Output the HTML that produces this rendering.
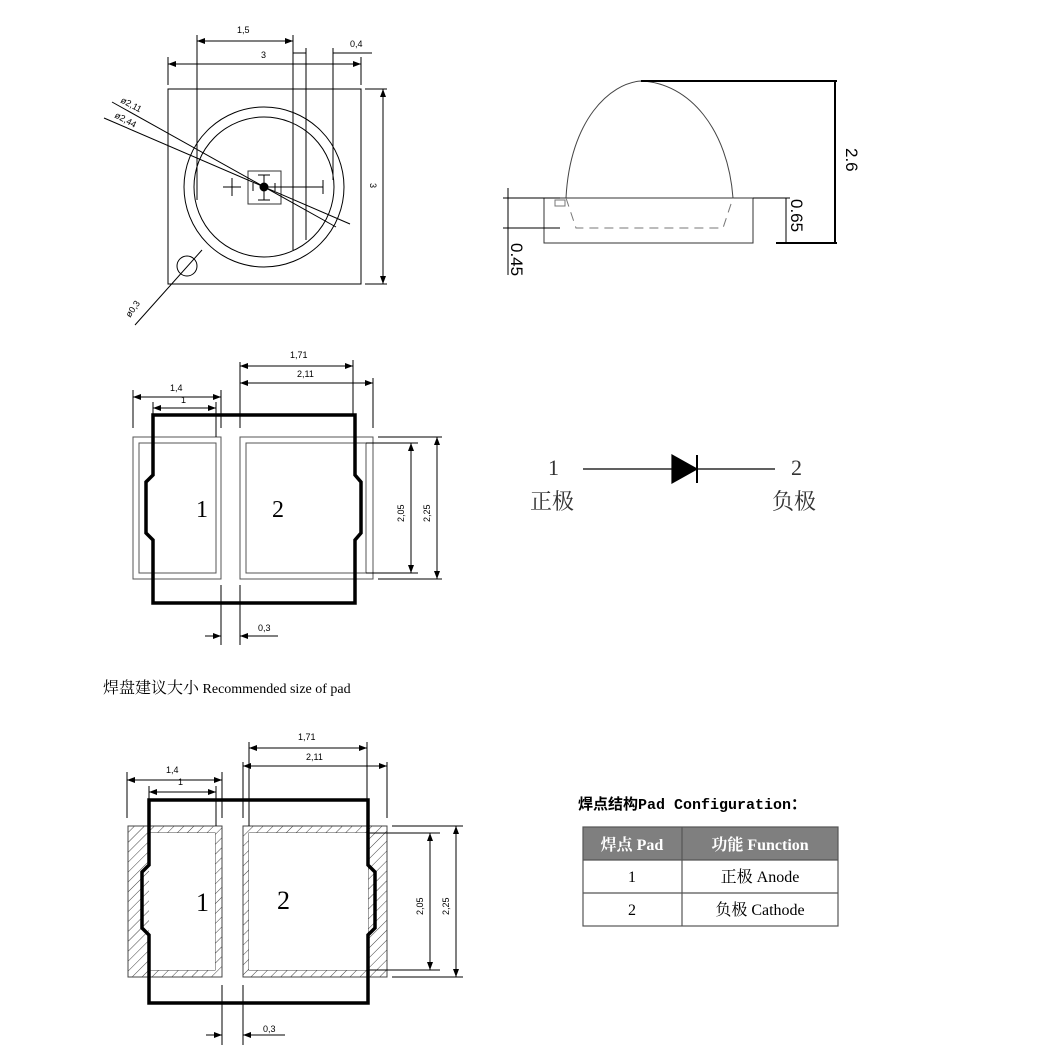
<!DOCTYPE html>
<html><head><meta charset="utf-8"><style>
body{margin:0;background:#fff;}
svg{display:block}
text{font-family:"Liberation Sans","DejaVu Sans",sans-serif;}
text.s, .s text{font-family:"Liberation Serif","Noto Serif CJK SC",serif;}
text.m{font-family:"Liberation Mono","Noto Sans CJK SC",monospace;}
</style></head><body>
<svg width="1062" height="1059" viewBox="0 0 1062 1059" xmlns="http://www.w3.org/2000/svg">
<defs>
<pattern id="h" width="7" height="7" patternUnits="userSpaceOnUse" patternTransform="rotate(45)">
<line x1="0" y1="0" x2="0" y2="7" stroke="#444" stroke-width="1"/></pattern>
<marker id="a" markerWidth="8" markerHeight="6" refX="8" refY="3" orient="auto-start-reverse"><path d="M0,0 L8,3 L0,6z" fill="#000"/></marker>
</defs>
<rect width="1062" height="1059" fill="#fff"/>
<!-- TOP LEFT -->
<g stroke="#000" stroke-width="1" fill="none">
<rect x="168" y="89" width="193" height="195"/>
<circle cx="264" cy="187" r="80"/>
<circle cx="264" cy="187" r="70"/>
<rect x="248" y="171" width="33" height="33" stroke="#333"/>
<circle cx="264" cy="187" r="4" fill="#000"/>
<line x1="223" y1="187" x2="241" y2="187"/><line x1="232" y1="178" x2="232" y2="196"/>
<line x1="264" y1="187" x2="323" y2="187"/><line x1="323" y1="180" x2="323" y2="194"/>
<line x1="264" y1="175" x2="264" y2="200"/><line x1="258" y1="175" x2="270" y2="175"/><line x1="258" y1="200" x2="270" y2="200"/>
<line x1="253" y1="183" x2="253" y2="191"/><line x1="275" y1="183" x2="275" y2="191"/>
<line x1="112" y1="102" x2="336" y2="227"/>
<line x1="104" y1="118" x2="350" y2="224"/>
<line x1="197" y1="35" x2="197" y2="200"/>
<line x1="293" y1="35" x2="293" y2="250"/>
<line x1="306" y1="48" x2="306" y2="240"/>
<line x1="333" y1="48" x2="333" y2="180"/>
<line x1="168" y1="57" x2="168" y2="85"/><line x1="361" y1="57" x2="361" y2="85"/>
<line x1="197" y1="41" x2="293" y2="41" marker-start="url(#a)" marker-end="url(#a)"/>
<line x1="168" y1="64" x2="361" y2="64" marker-start="url(#a)" marker-end="url(#a)"/>
<line x1="293" y1="53" x2="306" y2="53"/><line x1="333" y1="53" x2="372" y2="53"/>
<line x1="365" y1="89" x2="387" y2="89"/><line x1="365" y1="284" x2="387" y2="284"/>
<line x1="383" y1="89" x2="383" y2="284" marker-start="url(#a)" marker-end="url(#a)"/>
<circle cx="187" cy="266" r="10"/>
<line x1="135" y1="325" x2="202" y2="250"/>
</g>
<g font-size="9" fill="#000">
<text x="237" y="33">1,5</text><text x="261" y="58">3</text><text x="350" y="47">0,4</text>
<text x="370" y="183" transform="rotate(90 370 183)">3</text>
<text x="120" y="102" transform="rotate(28 120 102)">ø2,11</text>
<text x="114" y="117" transform="rotate(28 114 117)">ø2,44</text>
<text x="130" y="318" transform="rotate(-55 130 318)">ø0,3</text>
</g>
<!-- SIDE VIEW -->
<g stroke="#000" fill="none">
<path d="M566,198 C570,120 610,83 641,81 C690,83 728,130 733,198" stroke="#444"/>
<rect x="544" y="198" width="209" height="45" stroke="#333"/>
<path d="M566,198 L576,228 L723,228 L733,198" stroke="#777" stroke-dasharray="9,6"/>
<rect x="555" y="200" width="10" height="6" stroke="#777"/>
<line x1="641" y1="81" x2="837" y2="81" stroke-width="2"/>
<line x1="835" y1="81" x2="835" y2="243" stroke-width="2"/>
<line x1="776" y1="243" x2="837" y2="243" stroke-width="2"/>
<line x1="753" y1="198" x2="790" y2="198"/>
<line x1="786" y1="198" x2="786" y2="243"/>
<line x1="508" y1="188" x2="508" y2="275"/>
<line x1="503" y1="198" x2="560" y2="198"/><line x1="503" y1="228" x2="560" y2="228"/>
</g>
<g font-size="17" fill="#000">
<text x="846" y="148" transform="rotate(90 846 148)">2.6</text>
<text x="791" y="199" transform="rotate(90 791 199)">0.65</text>
<text x="511" y="243" transform="rotate(90 511 243)">0.45</text>
</g>
<!-- MIDDLE PADS -->
<g stroke="#555" fill="none">
<rect x="133" y="437" width="88" height="142"/>
<rect x="139" y="443" width="77" height="130"/>
<rect x="240" y="437" width="133" height="142"/>
<rect x="246" y="443" width="120" height="130"/>
</g>
<path d="M153,415 L355,415 L355,475 L361,482 L361,533 L355,540 L355,603 L153,603 L153,540 L146,533 L146,482 L153,475 Z" fill="none" stroke="#000" stroke-width="3.5"/>
<g stroke="#000" fill="none" stroke-width="1">
<line x1="133" y1="390" x2="133" y2="428"/><line x1="221" y1="390" x2="221" y2="428"/>
<line x1="153" y1="402" x2="153" y2="415"/><line x1="216" y1="402" x2="216" y2="437"/>
<line x1="240" y1="362" x2="240" y2="428"/><line x1="353" y1="360" x2="353" y2="415"/><line x1="373" y1="378" x2="373" y2="428"/>
<line x1="240" y1="366" x2="353" y2="366" marker-start="url(#a)" marker-end="url(#a)"/>
<line x1="240" y1="383" x2="373" y2="383" marker-start="url(#a)" marker-end="url(#a)"/>
<line x1="133" y1="397" x2="221" y2="397" marker-start="url(#a)" marker-end="url(#a)"/>
<line x1="153" y1="408" x2="216" y2="408" marker-start="url(#a)" marker-end="url(#a)"/>
<line x1="378" y1="437" x2="442" y2="437"/><line x1="366" y1="443" x2="418" y2="443"/>
<line x1="378" y1="579" x2="442" y2="579"/><line x1="366" y1="573" x2="418" y2="573"/>
<line x1="411" y1="443" x2="411" y2="573" marker-start="url(#a)" marker-end="url(#a)"/>
<line x1="437" y1="437" x2="437" y2="579" marker-start="url(#a)" marker-end="url(#a)"/>
<line x1="221" y1="585" x2="221" y2="645"/><line x1="240" y1="585" x2="240" y2="645"/>
<line x1="205" y1="636" x2="221" y2="636" marker-end="url(#a)"/><line x1="278" y1="636" x2="240" y2="636" marker-end="url(#a)"/>
</g>
<g font-size="9" fill="#000">
<text x="290" y="358">1,71</text><text x="297" y="377">2,11</text>
<text x="170" y="391">1,4</text><text x="181" y="403">1</text>
<text x="404" y="522" transform="rotate(-90 404 522)">2,05</text>
<text x="430" y="522" transform="rotate(-90 430 522)">2,25</text>
<text x="258" y="631">0,3</text>
</g>
<text class="s" x="196" y="517" font-size="24">1</text>
<text class="s" x="272" y="517" font-size="24">2</text>
<!-- DIODE -->
<g stroke="#000" stroke-width="1.2">
<line x1="583" y1="469" x2="672" y2="469"/><line x1="697" y1="469" x2="775" y2="469"/>
<path d="M672,455 L697,469 L672,483 Z" fill="#000"/>
<line x1="697" y1="455" x2="697" y2="483" stroke-width="2"/>
</g>
<g class="s" font-size="22" fill="#333">
<text x="548" y="475">1</text><text x="530" y="509">正极</text>
<text x="791" y="475">2</text><text x="772" y="509">负极</text>
</g>
<text class="s" x="103" y="693" font-size="14" fill="#000"><tspan font-size="16">焊盘建议大小</tspan> Recommended size of pad</text>
<!-- BOTTOM PADS -->
<g stroke="#444" fill="url(#h)" fill-rule="evenodd">
<path d="M128,826 H222 V977 H128 Z M150,833 H215 V970 H150 Z"/>
<path d="M243,826 H387 V977 H243 Z M249,833 H368 V970 H249 Z"/>
</g>
<rect x="149" y="833" width="66" height="137" fill="#fff"/>
<rect x="249" y="833" width="119" height="137" fill="#fff"/>
<path d="M149,800 L368,800 L368,865 L375,872 L375,928 L368,935 L368,1003 L149,1003 L149,935 L142,928 L142,872 L149,865 Z" fill="none" stroke="#000" stroke-width="3.5"/>
<g stroke="#000" fill="none">
<line x1="127" y1="772" x2="127" y2="818"/><line x1="222" y1="772" x2="222" y2="818"/>
<line x1="149" y1="786" x2="149" y2="800"/><line x1="216" y1="786" x2="216" y2="826"/>
<line x1="243" y1="762" x2="243" y2="818"/><line x1="249" y1="742" x2="249" y2="826"/><line x1="367" y1="742" x2="367" y2="800"/><line x1="387" y1="762" x2="387" y2="818"/>
<line x1="249" y1="748" x2="367" y2="748" marker-start="url(#a)" marker-end="url(#a)"/>
<line x1="243" y1="766" x2="387" y2="766" marker-start="url(#a)" marker-end="url(#a)"/>
<line x1="127" y1="780" x2="222" y2="780" marker-start="url(#a)" marker-end="url(#a)"/>
<line x1="149" y1="792" x2="216" y2="792" marker-start="url(#a)" marker-end="url(#a)"/>
<line x1="392" y1="826" x2="463" y2="826"/><line x1="368" y1="833" x2="440" y2="833"/>
<line x1="392" y1="977" x2="463" y2="977"/><line x1="368" y1="970" x2="440" y2="970"/>
<line x1="430" y1="833" x2="430" y2="970" marker-start="url(#a)" marker-end="url(#a)"/>
<line x1="456" y1="826" x2="456" y2="977" marker-start="url(#a)" marker-end="url(#a)"/>
<line x1="222" y1="985" x2="222" y2="1045"/><line x1="243" y1="985" x2="243" y2="1045"/>
<line x1="206" y1="1035" x2="222" y2="1035" marker-end="url(#a)"/><line x1="285" y1="1035" x2="243" y2="1035" marker-end="url(#a)"/>
</g>
<g font-size="9" fill="#000">
<text x="298" y="740">1,71</text><text x="306" y="760">2,11</text>
<text x="166" y="773">1,4</text><text x="178" y="785">1</text>
<text x="423" y="915" transform="rotate(-90 423 915)">2,05</text>
<text x="449" y="915" transform="rotate(-90 449 915)">2,25</text>
<text x="263" y="1032">0,3</text>
</g>
<text class="s" x="196" y="911" font-size="26">1</text>
<text class="s" x="277" y="909" font-size="26">2</text>
<!-- TABLE -->
<text class="m" x="578" y="809" font-size="15" font-weight="bold">焊点结构Pad Configuration：</text>
<rect x="583" y="827" width="255" height="33" fill="#7f7f7f"/>
<g stroke="#555" fill="none" stroke-width="1.2">
<rect x="583" y="827" width="255" height="99"/>
<line x1="583" y1="860" x2="838" y2="860"/><line x1="583" y1="893" x2="838" y2="893"/>
<line x1="682" y1="827" x2="682" y2="926"/>
</g>
<g class="s" text-anchor="middle">
<text x="632" y="850" font-size="16" font-weight="bold" fill="#fff">焊点 Pad</text>
<text x="760" y="850" font-size="16" font-weight="bold" fill="#fff">功能 Function</text>
<text x="632" y="882" font-size="16" fill="#000">1</text>
<text x="760" y="882" font-size="16" fill="#000">正极 Anode</text>
<text x="632" y="915" font-size="16" fill="#000">2</text>
<text x="760" y="915" font-size="16" fill="#000">负极 Cathode</text>
</g>
</svg>
</body></html>
